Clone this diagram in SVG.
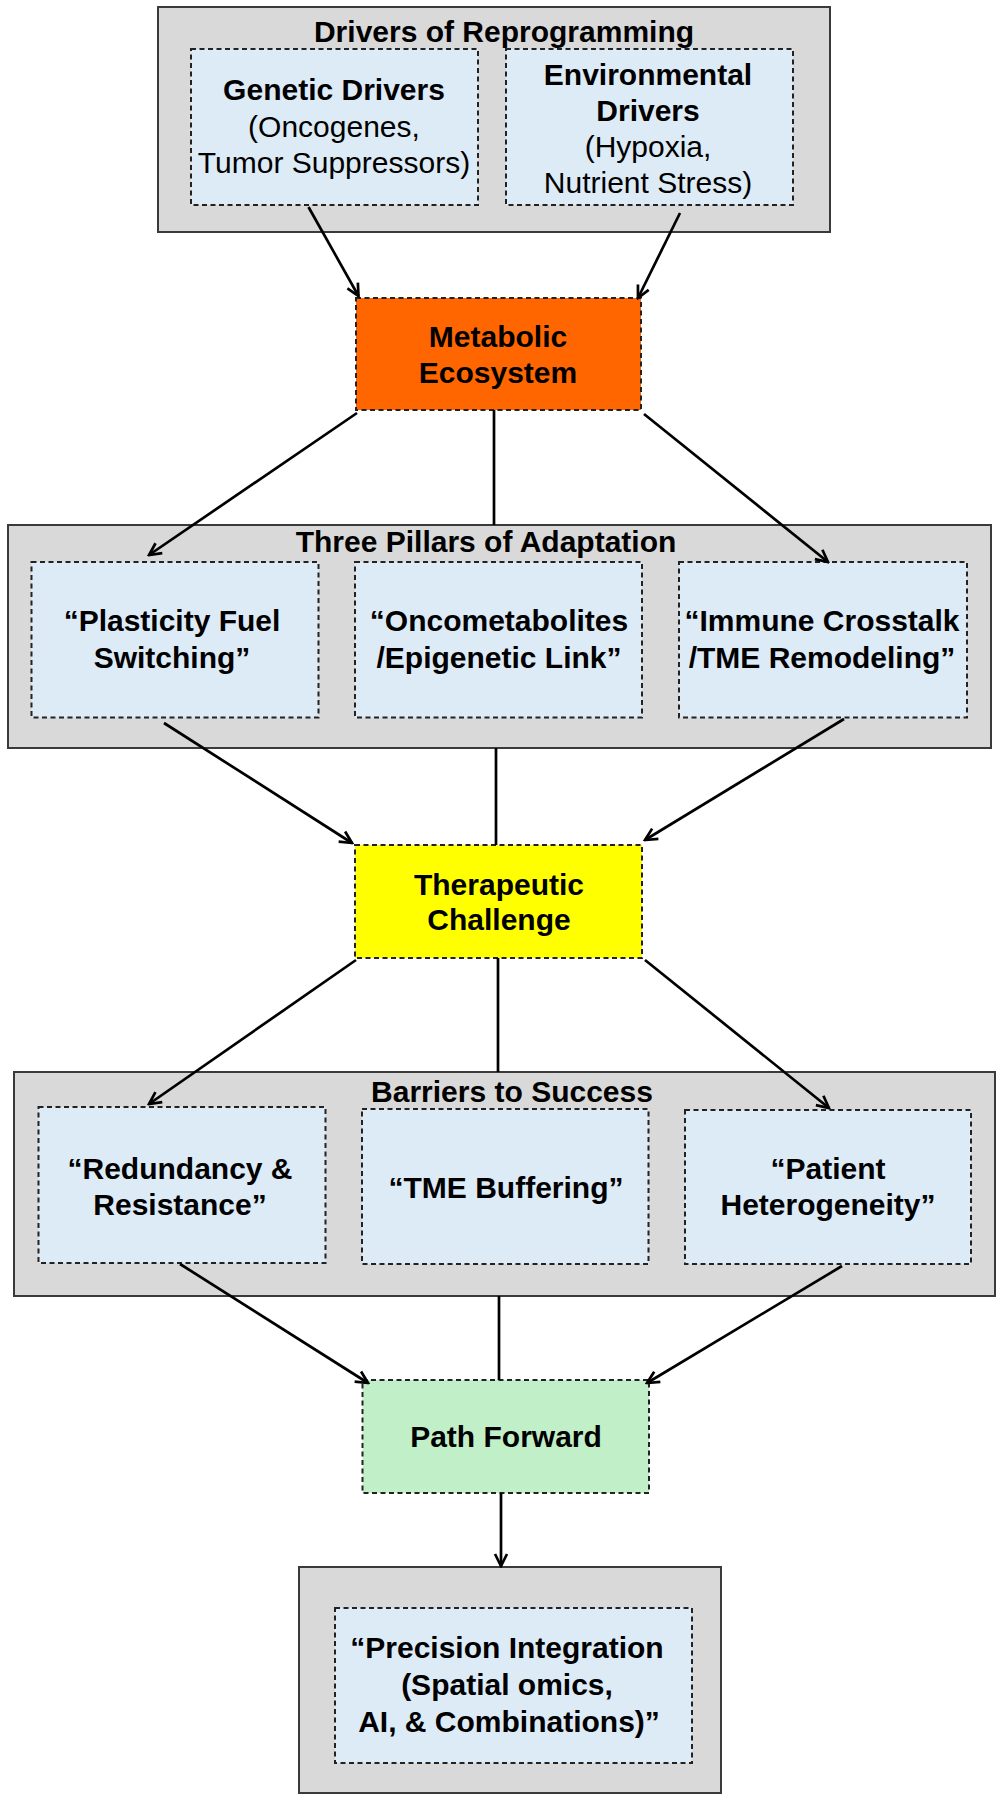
<svg xmlns="http://www.w3.org/2000/svg" width="1006" height="1800" viewBox="0 0 1006 1800">
<style>
text{font-family:"Liberation Sans",Arial,sans-serif;font-size:30px;fill:#000;text-anchor:middle}
.b{font-weight:bold}
.outer{fill:#D9D9D9;stroke:#3a3a3a;stroke-width:2}
.inner{fill:#DDEBF7;stroke:#222;stroke-width:2;stroke-dasharray:5,3.5}
.core{stroke:#222;stroke-width:2;stroke-dasharray:5,3.5}
.conn line{stroke:#000;stroke-width:2.7}
.arr{marker-end:url(#ah)}
</style>
<defs>
<marker id="ah" viewBox="0 0 16 16" refX="14" refY="8" markerWidth="16" markerHeight="16" markerUnits="userSpaceOnUse" orient="auto">
<path d="M2,2 L14,8 L2,14" fill="none" stroke="#000" stroke-width="2.7"/>
</marker>
</defs>
<rect width="1006" height="1800" fill="#fff"/>

<g id="drivers">
<rect class="outer" x="158" y="7" width="672" height="225"/>
<text class="b" x="504" y="42">Drivers of Reprogramming</text>
</g>
<g id="genetic">
<rect class="inner" x="191" y="49" width="287" height="156"/>
<text class="b" x="334" y="100">Genetic Drivers</text>
<text x="334" y="137">(Oncogenes,</text>
<text x="334" y="173">Tumor Suppressors)</text>
</g>
<g id="environmental">
<rect class="inner" x="506" y="49" width="287" height="156"/>
<text class="b" x="648" y="85">Environmental</text>
<text class="b" x="648" y="121">Drivers</text>
<text x="648" y="157">(Hypoxia,</text>
<text x="648" y="193">Nutrient Stress)</text>
</g>

<g id="metabolic">
<rect class="core" x="356" y="298" width="285" height="112" fill="#FF6600"/>
<text class="b" x="498" y="347">Metabolic</text>
<text class="b" x="498" y="383">Ecosystem</text>
</g>

<g id="pillars">
<rect class="outer" x="8" y="525" width="983" height="223"/>
<text class="b" x="486" y="552">Three Pillars of Adaptation</text>
</g>
<g id="plasticity">
<rect class="inner" x="31.5" y="562" width="287" height="155.5"/>
<text class="b" x="172" y="631">“Plasticity Fuel</text>
<text class="b" x="172" y="668">Switching”</text>
</g>
<g id="oncometabolites">
<rect class="inner" x="355" y="562" width="287" height="155.5"/>
<text class="b" x="499" y="631">“Oncometabolites</text>
<text class="b" x="499" y="668">/Epigenetic Link”</text>
</g>
<g id="immune">
<rect class="inner" x="679" y="562" width="288" height="155.5"/>
<text class="b" x="822" y="631">“Immune Crosstalk</text>
<text class="b" x="822" y="668">/TME Remodeling”</text>
</g>

<g id="therapeutic">
<rect class="core" x="355" y="845" width="287" height="113" fill="#FFFF00"/>
<text class="b" x="499" y="895">Therapeutic</text>
<text class="b" x="499" y="930">Challenge</text>
</g>

<g id="barriers">
<rect class="outer" x="14" y="1072" width="981" height="224"/>
<text class="b" x="512" y="1102">Barriers to Success</text>
</g>
<g id="redundancy">
<rect class="inner" x="38.5" y="1107" width="287" height="156"/>
<text class="b" x="180" y="1179">“Redundancy &amp;</text>
<text class="b" x="180" y="1215">Resistance”</text>
</g>
<g id="tme">
<rect class="inner" x="362" y="1109" width="286.5" height="155"/>
<text class="b" x="506" y="1198">“TME Buffering”</text>
</g>
<g id="heterogeneity">
<rect class="inner" x="685" y="1110" width="286" height="154"/>
<text class="b" x="828" y="1179">“Patient</text>
<text class="b" x="828" y="1215">Heterogeneity”</text>
</g>

<g id="path-forward">
<rect class="core" x="362.5" y="1380" width="286.5" height="113" fill="#C1F0C8"/>
<text class="b" x="506" y="1447">Path Forward</text>
</g>

<g id="precision-container">
<rect class="outer" x="299" y="1567" width="422" height="226"/>
</g>
<g id="precision">
<rect class="inner" x="335" y="1608" width="357" height="155"/>
<text class="b" x="507" y="1658">“Precision Integration</text>
<text class="b" x="507" y="1695">(Spatial omics,</text>
<text class="b" x="509" y="1732">AI, &amp; Combinations)”</text>
</g>

<g id="connectors" class="conn">
<line class="arr" x1="308.5" y1="207" x2="358.5" y2="296"/>
<line class="arr" x1="680" y1="213" x2="638" y2="298"/>
<line class="arr" x1="357" y1="413" x2="149" y2="555"/>
<line x1="494" y1="410" x2="494" y2="525"/>
<line class="arr" x1="644" y1="414" x2="828" y2="562"/>
<line class="arr" x1="164" y1="723" x2="352" y2="843"/>
<line x1="496" y1="748" x2="496" y2="845"/>
<line class="arr" x1="844" y1="719" x2="645" y2="840"/>
<line class="arr" x1="356" y1="960" x2="149" y2="1104"/>
<line x1="498" y1="958" x2="498" y2="1072"/>
<line class="arr" x1="645" y1="960" x2="829" y2="1108"/>
<line class="arr" x1="180" y1="1264" x2="368" y2="1383"/>
<line x1="499" y1="1296" x2="499" y2="1380"/>
<line class="arr" x1="842" y1="1266" x2="647" y2="1383"/>
<line class="arr" x1="501" y1="1493" x2="501" y2="1566"/>
</g>
</svg>
